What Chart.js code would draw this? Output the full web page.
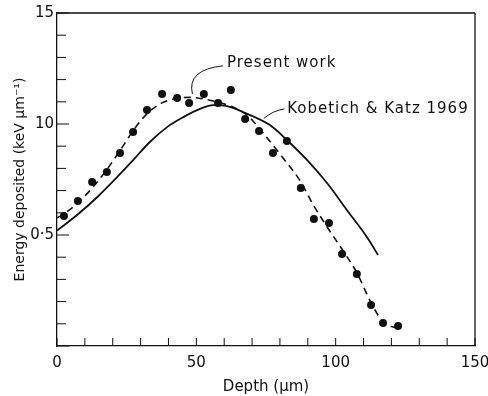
<!DOCTYPE html>
<html><head><meta charset="utf-8">
<script src="https://cdn.jsdelivr.net/npm/chart.js@4"></script>
<style>html,body{margin:0;padding:0;background:#fff}</style>
</head><body>
<canvas id="c" width="488" height="396"></canvas>
<script>
// Present work: measured points
const presentX = [2.5, 7.5, 12.6, 17.9, 22.6, 27.3, 32.3, 37.7, 43.1, 47.4, 52.7, 57.8, 62.4, 67.5, 72.5, 77.5, 82.5, 87.5, 92.2, 97.6, 102.3, 107.6, 112.7, 117.0, 122.4];
const presentY = [5.86, 6.53, 7.39, 7.84, 8.69, 9.64, 10.63, 11.35, 11.17, 10.95, 11.35, 10.95, 11.53, 10.23, 9.68, 8.69, 9.23, 7.12, 5.72, 5.54, 4.14, 3.24, 1.85, 1.04, 0.90];
// Present work: dashed curve
const fitX = [0, 2.5, 7.5, 12.5, 17.6, 22.6, 27.6, 32.6, 37.7, 42.7, 47.7, 53, 58, 62.4, 68.2, 73.9, 81.1, 87.2, 92, 97, 102.6, 107.6, 112.7, 117, 122];
const fitY = [5.77, 5.95, 6.45, 7.1, 7.9, 8.8, 9.75, 10.5, 10.95, 11.15, 11.2, 11.12, 10.97, 10.8, 10.4, 9.6, 8.47, 7.45, 6.35, 5.35, 4.3, 3.3, 1.95, 1.08, 0.8];
// Kobetich & Katz 1969: solid curve
const kkX = [0, 7.2, 14.4, 21.5, 27.5, 33.4, 39.5, 45.2, 51.3, 56, 61, 66.7, 76.4, 82.5, 89.7, 96.9, 104, 111.2, 115.2];
const kkY = [5.2, 5.9, 6.7, 7.6, 8.4, 9.2, 9.86, 10.3, 10.68, 10.85, 10.8, 10.54, 9.95, 9.28, 8.38, 7.34, 6.13, 4.91, 4.1];
const xTickLabels = {0: '0', 50: '50', 100: '100', 150: '150'};
const yTickLabels = {5: '0\u00b75', 10: '10', 15: '15'};
const annotations = [
  {text: 'Present work', x: 61, y: 12.75, lead: [[59.6, 12.62], [46.5, 12.45], [48.6, 11.35]]},
  {text: 'Kobetich & Katz 1969', x: 82.6, y: 10.68, lead: [[81.6, 10.68], [77.5, 10.6], [74.2, 10.25]]}
];

const pts = (xs, ys) => xs.map((x, i) => ({x, y: ys[i]}));
const FONT = '"DejaVu Sans", sans-serif';
const INK = '#111';

const framePlugin = {
  id: 'frame',
  afterDraw(chart) {
    const {ctx, chartArea: a, scales: {x, y}} = chart;
    ctx.save();
    ctx.strokeStyle = INK;
    ctx.lineWidth = 1.3;
    ctx.beginPath();
    ctx.moveTo(a.left, a.top); ctx.lineTo(a.right, a.top);
    ctx.moveTo(a.right, a.top); ctx.lineTo(a.right, a.bottom);
    ctx.stroke();
    ctx.lineWidth = 1;
    ctx.beginPath();
    x.ticks.forEach(t => {
      const px = x.getPixelForValue(t.value);
      ctx.moveTo(px, a.bottom); ctx.lineTo(px, a.bottom - 8);
    });
    y.ticks.forEach(t => {
      const py = y.getPixelForValue(t.value);
      const len = (t.value % 5 === 0) ? 12 : 9;
      ctx.moveTo(a.left, py); ctx.lineTo(a.left + len, py);
    });
    ctx.stroke();
    // annotations
    ctx.fillStyle = INK;
    ctx.font = '15px ' + FONT;
    ctx.textBaseline = 'middle';
    ctx.textAlign = 'left';
    try { ctx.letterSpacing = '1px'; } catch (e) {}
    annotations.forEach(an => {
      ctx.fillText(an.text, x.getPixelForValue(an.x), y.getPixelForValue(an.y));
      const p = an.lead.map(q => [x.getPixelForValue(q[0]), y.getPixelForValue(q[1])]);
      ctx.beginPath();
      ctx.moveTo(p[0][0], p[0][1]);
      ctx.quadraticCurveTo(p[1][0], p[1][1], p[2][0], p[2][1]);
      ctx.lineWidth = 1;
      ctx.stroke();
    });
    ctx.restore();
  }
};

new Chart(document.getElementById('c'), {
  type: 'scatter',
  data: {
    datasets: [
      {label: 'Present work (curve)', data: pts(fitX, fitY), showLine: true, borderColor: INK, borderWidth: 1.6, borderDash: [7, 5], pointRadius: 0, cubicInterpolationMode: 'monotone', fill: false},
      {label: 'Kobetich & Katz 1969', data: pts(kkX, kkY), showLine: true, borderColor: INK, borderWidth: 1.8, pointRadius: 0, cubicInterpolationMode: 'monotone', fill: false},
      {label: 'Present work', data: pts(presentX, presentY), showLine: false, pointRadius: 4, pointBackgroundColor: INK, pointBorderColor: INK, pointBorderWidth: 0}
    ]
  },
  options: {
    responsive: false,
    animation: false,
    layout: {padding: {top: 13, right: 13, left: 0, bottom: 0}},
    plugins: {legend: {display: false}, tooltip: {enabled: false}},
    scales: {
      x: {
        type: 'linear', min: 0, max: 150,
        afterFit(s) { s.height = 50; s.paddingLeft = 0; s.paddingRight = 0; },
        ticks: {stepSize: 10, autoSkip: false, maxRotation: 0, padding: 8, color: INK, font: {family: FONT, size: 15},
          callback: v => xTickLabels[v] ?? ''},
        grid: {display: true, drawOnChartArea: false, drawTicks: false},
        border: {display: true, color: INK, width: 1.3},
        title: {display: true, text: 'Depth (\u03bcm)', color: INK, font: {family: FONT, size: 15}, padding: {top: 0, bottom: 0}}
      },
      y: {
        type: 'linear', min: 0, max: 15,
        afterFit(s) { s.width = 57; s.paddingTop = 0; s.paddingBottom = 0; },
        ticks: {stepSize: 1, autoSkip: false, padding: 3, color: INK, font: {family: FONT, size: 15},
          callback: v => yTickLabels[v] ?? ''},
        grid: {display: true, drawOnChartArea: false, drawTicks: false},
        border: {display: true, color: INK, width: 1.3},
        title: {display: true, text: 'Energy deposited (keV \u03bcm\u207b\u00b9)', color: INK, font: {family: FONT, size: 14}, padding: {top: 12, bottom: 0}}
      }
    }
  },
  plugins: [framePlugin]
});
</script>
</body></html>
